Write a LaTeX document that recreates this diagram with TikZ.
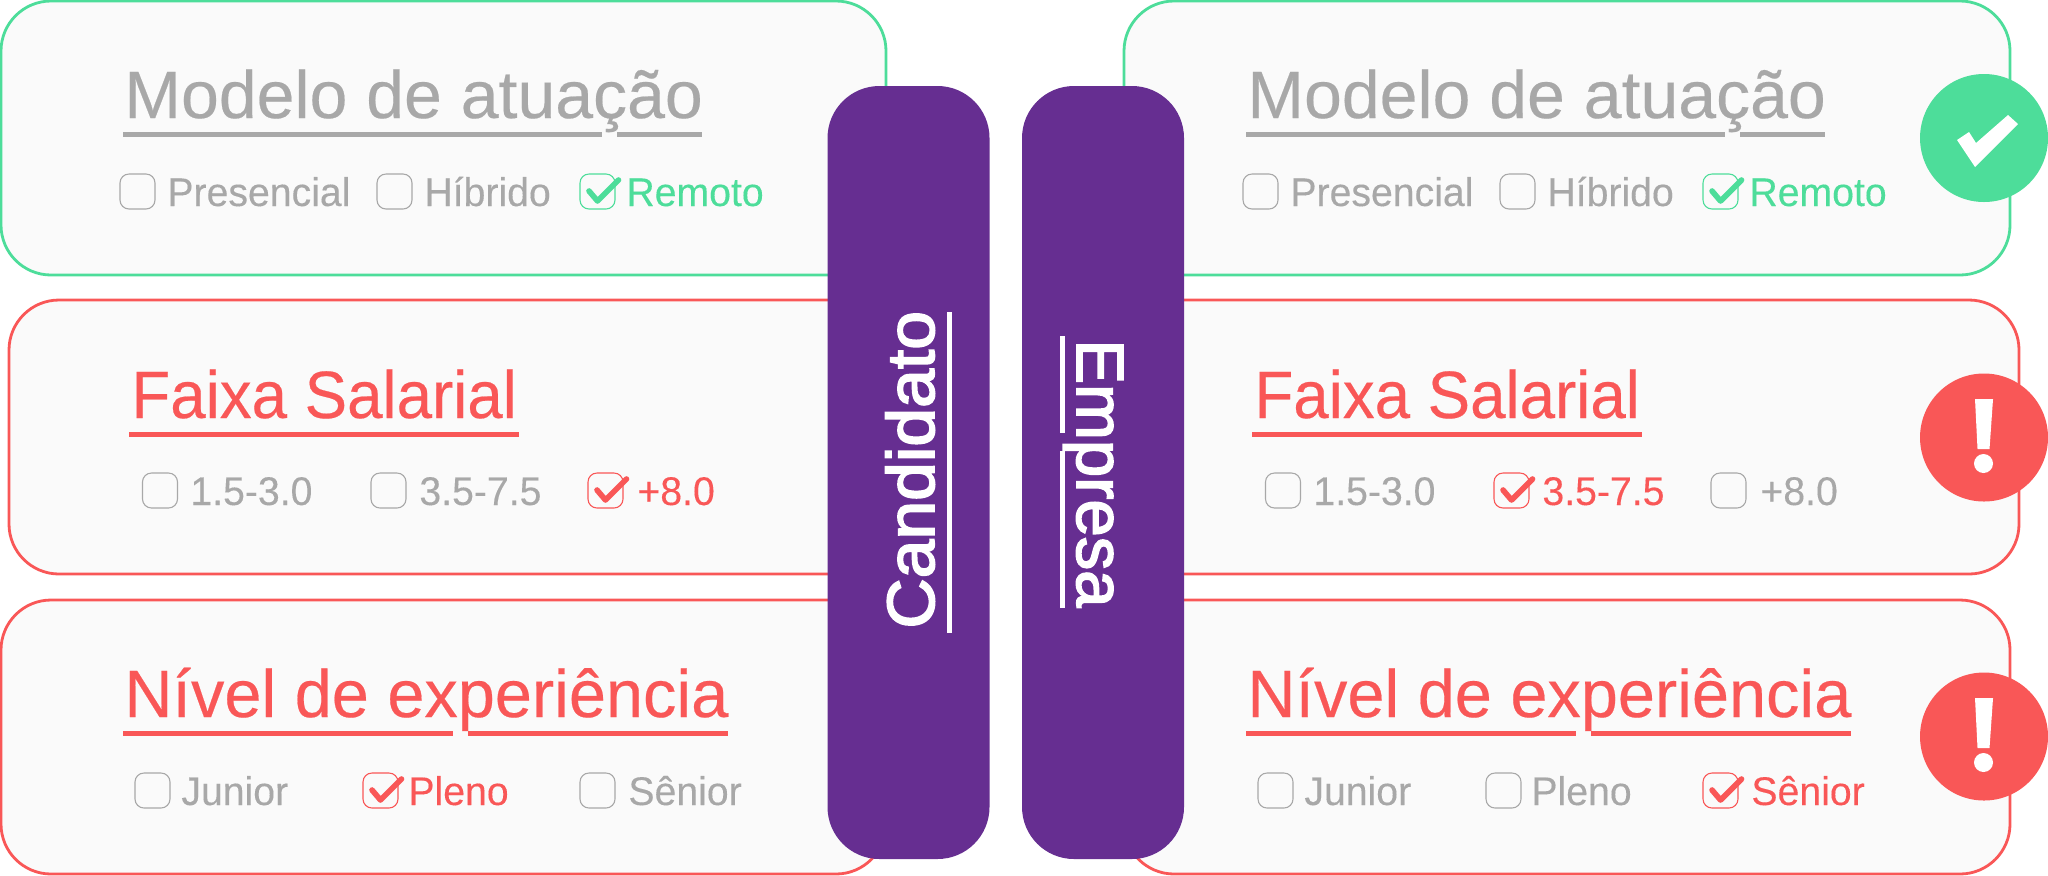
\documentclass[tikz,border=0pt]{standalone}
\usepackage{graphicx}
\usepackage{fontspec}
\setmainfont{Liberation Sans}
\newfontface\titlefont[FakeBold=0.3]{Liberation Sans}
\newfontface\optfont[FakeStretch=0.98,FakeBold=0.2]{Liberation Sans}
\newfontface\pillfont[FakeBold=2.5]{Liberation Sans}
\definecolor{okgreen}{HTML}{4DDD9A}
\definecolor{alertred}{HTML}{F95757}
\definecolor{softgray}{HTML}{A8A8A8}
\definecolor{cardbg}{HTML}{FAFAFA}
\definecolor{pillpurple}{HTML}{662E91}
\tikzset{
  card/.style={line width=1.4pt,draw=#1,fill=cardbg,rounded corners=25pt},
  pill/.style={fill=pillpurple,rounded corners=26pt},
  optbox/.style={line width=0.55pt,rounded corners=4.5pt},
  optmark/.style={line width=2.8pt,line cap=round,line join=round},
  titletext/.style={anchor=base west,inner sep=0pt,font=\fontsize{33.5}{40}\titlefont},
  opttext/.style={anchor=base west,inner sep=0pt,font=\fontsize{20}{24}\optfont},
  pilltext/.style={anchor=base west,inner sep=0pt,text=white,font=\fontsize{33.5}{40}\pillfont},
  rule/.style={line width=2.5pt}
}
% name, box x, text x, box top, colour, text
\newcommand{\optitem}[6]{
  \draw[optbox,#5] (#2,#4) rectangle ++(35,35);
  \node[opttext,text=#5] (#1) at (#3,#4+32) {#6};
}
\newcommand{\optcheck}[3]{
  \draw[optmark,#3] ({#1+9},{#2+17}) -- ++(8.5,10) -- ++(21,-21);
}
\newcommand{\alertmark}[1]{
  \fill[white] (1975,{#1-38.5}) -- (1993,{#1-38.5}) -- (1989.5,{#1+11.5}) -- (1977.5,{#1+11.5}) -- cycle;
  \fill[white] (1983.5,{#1+26}) circle (9.5);
}
\begin{document}
\begin{tikzpicture}[x=0.5pt,y=-0.5pt]
  \useasboundingbox (0,0) rectangle (2048,875);
  % left cards
  \draw[card=okgreen] (1,1) rectangle (886,275);
  \draw[card=alertred] (9,300) rectangle (895,574);
  \draw[card=alertred] (1,600) rectangle (886,874);
  % right cards
  \draw[card=okgreen] (1124,1) rectangle (2010,275);
  \draw[card=alertred] (1133,300) rectangle (2019,574);
  \draw[card=alertred] (1124,600) rectangle (2010,874);
  % left titles
  \node[titletext,text=softgray] (modeloA) at (124,118) {\scalebox{1.015}[1]{Modelo de atuação}};
  \draw[rule,softgray] (123,134)--(602,134) (617,134)--(702,134);
  \node[titletext,text=alertred] (faixaA) at (131,418) {\scalebox{0.95}[1]{Faixa Salarial}};
  \draw[rule,alertred] (129,434)--(519,434);
  \node[titletext,text=alertred] (nivelA) at (124,717) {\scalebox{0.995}[1]{Nível de experiência}};
  \draw[rule,alertred] (123,733)--(453,733) (468,733)--(728,733);
  % right titles
  \node[titletext,text=softgray] (modeloB) at (1247,118) {\scalebox{1.015}[1]{Modelo de atuação}};
  \draw[rule,softgray] (1246,134)--(1725,134) (1740,134)--(1825,134);
  \node[titletext,text=alertred] (faixaB) at (1254,418) {\scalebox{0.95}[1]{Faixa Salarial}};
  \draw[rule,alertred] (1252,434)--(1642,434);
  \node[titletext,text=alertred] (nivelB) at (1247,717) {\scalebox{0.995}[1]{Nível de experiência}};
  \draw[rule,alertred] (1246,733)--(1576,733) (1591,733)--(1851,733);
  % left options
  \optitem{presencialA}{120}{167}{174}{softgray}{Presencial}
  \optitem{hibridoA}{377}{424}{174}{softgray}{Híbrido}
  \optitem{remotoA}{580}{626}{174}{okgreen}{Remoto}
  \optcheck{580}{174}{okgreen}
  \optitem{baixaA}{142.5}{190}{473}{softgray}{1.5-3.0}
  \optitem{mediaA}{371}{419}{473}{softgray}{3.5-7.5}
  \optitem{altaA}{588}{637}{473}{alertred}{+8.0}
  \optcheck{588}{473}{alertred}
  \optitem{juniorA}{135}{181}{773}{softgray}{Junior}
  \optitem{plenoA}{363}{408}{773}{alertred}{Pleno}
  \optcheck{363}{773}{alertred}
  \optitem{seniorA}{580}{628}{773}{softgray}{Sênior}
  % right options
  \optitem{presencialB}{1243}{1290}{174}{softgray}{Presencial}
  \optitem{hibridoB}{1500}{1547}{174}{softgray}{Híbrido}
  \optitem{remotoB}{1703}{1749}{174}{okgreen}{Remoto}
  \optcheck{1703}{174}{okgreen}
  \optitem{baixaB}{1265.5}{1313}{473}{softgray}{1.5-3.0}
  \optitem{mediaB}{1494}{1542}{473}{alertred}{3.5-7.5}
  \optcheck{1494}{473}{alertred}
  \optitem{altaB}{1711}{1760}{473}{softgray}{+8.0}
  \optitem{juniorB}{1258}{1304}{773}{softgray}{Junior}
  \optitem{plenoB}{1486}{1531}{773}{softgray}{Pleno}
  \optitem{seniorB}{1703}{1751}{773}{alertred}{Sênior}
  \optcheck{1703}{773}{alertred}
  % status marks
  \fill[okgreen] (1984,138) circle (64);
  \fill[white] (1957,140)--(1969,132)--(1976,143)--(2008,115)--(2018,124)--(1975,167)--cycle;
  \fill[alertred] (1984,437.5) circle (64);
  \alertmark{437.5}
  \fill[alertred] (1984,736.5) circle (64);
  \alertmark{736.5}
  % purple bars
  \fill[pill] (827.5,86) rectangle (989.5,859);
  \fill[pill] (1022,86) rectangle (1184,859);
  \node[pilltext,rotate=90] (candidato) at (934,629) {\scalebox{1.04}[1]{Candidato}};
  \draw[rule,white] (949,312)--(949,633);
  \node[pilltext,rotate=-90] (empresa) at (1077,339) {Empresa};
  \draw[rule,white] (1062,336)--(1062,433) (1062,451)--(1062,608);
\end{tikzpicture}
\end{document}
